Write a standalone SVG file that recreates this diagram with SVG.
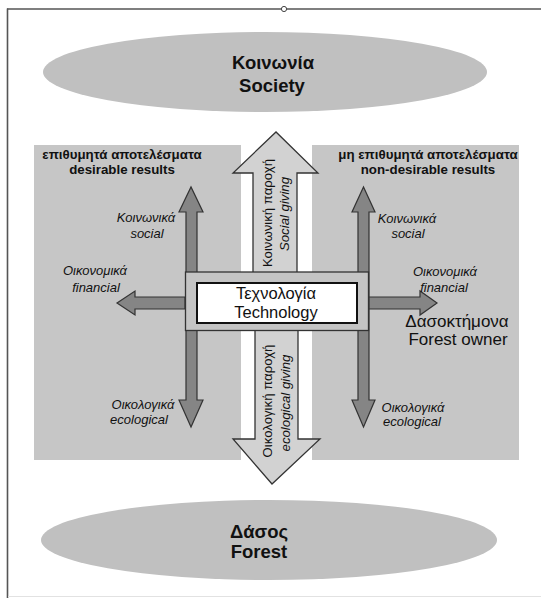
<svg xmlns="http://www.w3.org/2000/svg" width="541" height="598" viewBox="0 0 541 598">
  <style>
    .ell { fill: #c0c0c0; }
    .panel { fill: #c6c6c6; }
    .big { fill: #d2d2d2; stroke: #333; stroke-width: 1.3; stroke-linejoin: miter; }
    .small { fill: #858585; stroke: #333; stroke-width: 1.2; }
    .t { font-family: "Liberation Sans", Arial, sans-serif; fill: #111; }
    .b { font-weight: bold; }
    .i { font-style: italic; }
  </style>

  <!-- page frame -->
  <rect x="0" y="0" width="541" height="598" fill="#fff"/>
  <line x1="7" y1="9" x2="541" y2="9" stroke="#555" stroke-width="1.6"/>
  <line x1="7.5" y1="8.5" x2="7.5" y2="598" stroke="#555" stroke-width="1.6"/>
  <line x1="8" y1="596.5" x2="541" y2="596.5" stroke="#e2e2e2" stroke-width="1"/>
  <circle cx="284" cy="9" r="2.6" fill="#fff" stroke="#444" stroke-width="1"/>

  <!-- Society -->
  <g id="society">
    <ellipse class="ell" cx="265" cy="72" rx="222" ry="40"/>
    <text class="t b" x="273" y="68.5" font-size="18.5" text-anchor="middle">Κοινωνία</text>
    <text class="t b" x="272" y="92" font-size="18.5" text-anchor="middle">Society</text>
  </g>

  <!-- Forest -->
  <g id="forest">
    <ellipse class="ell" cx="269" cy="540" rx="228" ry="40"/>
    <text class="t b" x="259" y="538" font-size="18.5" text-anchor="middle">Δάσος</text>
    <text class="t b" x="259" y="558" font-size="18.5" text-anchor="middle">Forest</text>
  </g>

  <!-- desirable results panel -->
  <g id="desirable">
    <rect class="panel" x="34" y="145" width="207" height="315"/>
    <text class="t b" x="122" y="159" font-size="13.3" text-anchor="middle">επιθυμητά αποτελέσματα</text>
    <text class="t b" x="122" y="174" font-size="13.3" text-anchor="middle">desirable results</text>
  </g>

  <!-- non-desirable results panel -->
  <g id="non-desirable">
    <rect class="panel" x="312" y="145" width="207" height="315"/>
    <text class="t b" x="428" y="159" font-size="13.3" text-anchor="middle">μη επιθυμητά αποτελέσματα</text>
    <text class="t b" x="428" y="174" font-size="13.3" text-anchor="middle">non-desirable results</text>
  </g>

  <g id="connectors">
    <!-- social giving: up to society -->
    <path class="big" d="M253,272 V173 H233 L276,132 L318,173 H297 V272"/>
    <!-- ecological giving: down to forest -->
    <path class="big" d="M255,330 V439 H233 L272,484 L320,439 H298 V330"/>
    <!-- left side: social / ecological -->
    <path class="small" d="M186,212 H179 L191,187 L203,212 H197 V400 H203 L191,427 L179,400 H186 Z"/>
    <!-- right side: social / ecological -->
    <path class="small" d="M358,212 H352 L363.5,187 L375,212 H369 V400 H375 L363.5,427 L352,400 H358 Z"/>
    <!-- left financial -->
    <path class="small" d="M185,297 H135 V291 L117,303 L135,315 V309 H185 Z"/>
    <!-- right financial -->
    <path class="small" d="M369,297 H420 V291 L437,303 L420,315 V309 H369 Z"/>
  </g>

  <!-- Technology hub -->
  <g id="technology">
    <rect x="185.5" y="272" width="183" height="58.5" fill="#c4c4c4" stroke="#333" stroke-width="1.3"/>
    <rect x="197" y="283" width="160" height="40" fill="#fff" stroke="#111" stroke-width="2"/>
    <text class="t" x="276" y="299" font-size="16.5" text-anchor="middle">Τεχνολογία</text>
    <text class="t" x="276" y="317.5" font-size="16.5" text-anchor="middle">Technology</text>
  </g>

  <!-- labels on the central arrows -->
  <g id="social-giving-label">
    <text class="t" transform="translate(271.5,213) rotate(-90)" font-size="13.2" text-anchor="middle">Κοινωνική παροχή</text>
    <text class="t i" transform="translate(289,214) rotate(-90)" font-size="13.2" text-anchor="middle">Social giving</text>
  </g>
  <g id="ecological-giving-label">
    <text class="t" transform="translate(272,401) rotate(-90)" font-size="13.2" text-anchor="middle">Οικολογική παροχή</text>
    <text class="t i" transform="translate(290,403) rotate(-90)" font-size="13.2" text-anchor="middle">ecological giving</text>
  </g>

  <!-- result labels -->
  <g id="left-labels" class="t i" font-size="13">
    <text x="146" y="222" text-anchor="middle">Κοινωνικά</text>
    <text x="147" y="238" text-anchor="middle">social</text>
    <text x="95" y="275" text-anchor="middle">Οικονομικά</text>
    <text x="96" y="292" text-anchor="middle">financial</text>
    <text x="143" y="409" text-anchor="middle">Οικολογικά</text>
    <text x="139" y="424" text-anchor="middle">ecological</text>
  </g>
  <g id="right-labels" class="t i" font-size="13">
    <text x="407" y="223" text-anchor="middle">Κοινωνικά</text>
    <text x="408" y="238" text-anchor="middle">social</text>
    <text x="445" y="276" text-anchor="middle">Οικονομικά</text>
    <text x="444" y="292" text-anchor="middle">financial</text>
    <text x="413" y="412" text-anchor="middle">Οικολογικά</text>
    <text x="412" y="426" text-anchor="middle">ecological</text>
  </g>

  <g id="forest-owner">
    <text class="t" x="457" y="327" font-size="17" text-anchor="middle">Δασοκτήμονα</text>
    <text class="t" x="458" y="345" font-size="17" text-anchor="middle">Forest owner</text>
  </g>
</svg>
